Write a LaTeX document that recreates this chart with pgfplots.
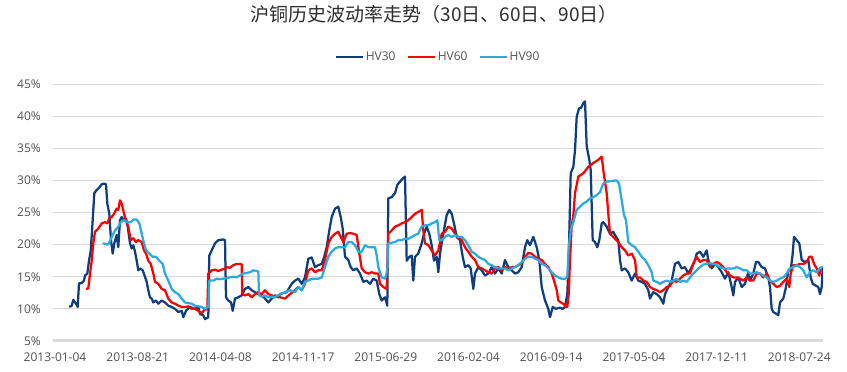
\documentclass[border=0pt]{standalone}
\usepackage{pgfplots}
\usepackage{pgfplotstable}
\pgfplotsset{compat=1.18}
\usepackage{fontspec}
\setmainfont{Open Sans}
\newfontfamily\cjk{Noto Sans CJK SC}
\definecolor{hvdark}{RGB}{14,62,124}
\definecolor{hvred}{RGB}{255,0,0}
\definecolor{hvlight}{RGB}{41,171,226}
\definecolor{gridgray}{RGB}{217,217,217}
\definecolor{textgray}{RGB}{80,80,80}
\definecolor{titlegray}{RGB}{45,45,45}

% column px: horizontal position, converted to trading-day index below
\pgfplotstableread{
px v
69.3 10.3
71.7 10.5
73.3 11.4
76 10.8
77.7 10.3
79 14
81.7 14
84 14.4
85 15.2
87.3 15.5
89 17.5
90.7 19
92.3 22.8
94.3 28
96.7 28.5
100 29
101.7 29.4
104 29.5
106 29.4
107.3 26.4
109.3 24.8
111 20.7
112.7 18.6
114.3 20.2
116.7 21.5
118.3 19.6
120 23.8
121.7 24.3
124 23.8
126 24
127.7 22.8
130 20.2
131.7 19.4
133.3 19.9
135 18.9
136.7 17.5
138.3 16
140 16.3
142.7 16
145 15
146.7 14.2
148.3 12.9
150 11.8
151.7 11.6
153.3 11
156 11.3
158.3 10.8
161.7 11.3
165 11
168.3 10.5
171.7 10.3
175 10
178.3 9.5
181.7 9.7
183.3 8.7
186 9.7
190 10.3
195 10
198.3 10.3
200 9.2
203.3 9
205 8.4
208.3 8.7
209.3 18.3
211.7 19.1
215 20.2
218.3 20.7
223.3 20.8
225 20.7
226 11.8
228.3 11.3
231 11
232.7 9.7
235 11.6
238.3 11.8
241.7 12.1
245 13.1
248.3 13.4
251.7 12.9
255 12.6
258.3 12.3
261.7 12.1
265 11.6
268.3 11
271.7 11.6
275 12.1
278.3 11.8
280 12.3
286.7 12.6
291.7 13.9
295 14.4
298.3 14.7
301.7 13.9
305 14.9
308.3 17.8
311.7 18
315 16.5
318.3 16.8
321.7 17
324 18
326.7 19.6
329.3 22.2
331.7 24.3
335 25.6
338.3 25.9
340.7 24.3
342.7 22.5
345 18.1
348.3 17.6
350.7 16.5
353.3 16
356.7 16.3
360 15.5
363.3 14.2
366.7 14.4
370 13.9
373.3 14.7
376.7 14.4
379.3 12.3
381.7 11.3
385 11.8
387.3 10.5
388.3 27.2
391.7 27.4
395 28
397.3 29.3
400 29.8
402.7 30.3
405 30.6
406.7 17.5
409.3 18.1
411.7 18.3
413.3 14.4
415 18.1
418.3 18.6
421.7 20.2
424 21.7
426.7 22.8
429.3 21.7
431.7 19.9
434 17.5
436.7 18.1
438.3 15.7
440 18.6
443.3 21.7
446.7 24.6
449.3 25.4
451.7 24.8
454 23.3
456.7 21.2
460 20.7
462.7 18.1
465 16.5
468.3 16.8
470.7 16.3
473.3 13.1
475 15.5
478.3 16.5
481.7 16
485 15.2
488.3 15.5
491.7 16.5
495 15.5
498.3 16.3
501.7 15.5
505 17.6
508.3 16.5
511.7 16
515 15.5
518.3 15.7
521.7 16.5
525 19.6
527.3 20.7
530 19.9
533.3 21.2
536.7 19.6
539.3 17.6
541.7 13.4
545 11.3
548.3 10
550 8.7
552.7 10.3
556 10
559.3 10.2
562.7 10
565 10.3
567.3 12.3
568.7 17.6
570.7 31.1
573.3 32.1
575 34.7
576.7 39.9
579 41.2
581 41.3
583.3 42
585 42.3
586.7 35.3
589.3 33.2
590.7 31.6
592.7 20.7
595 20.4
597.3 19.6
599.3 20.7
601.7 23.3
603.3 23.5
606.7 22.8
610 21.7
613.3 22
616 21.2
618.3 20.7
620 17.6
621.7 16
625 16.3
628.3 15.7
631.7 14.4
635 15.5
638.3 14.4
641.7 14.2
645 13.9
648.3 12.9
650 11.6
653.3 12.6
656.7 12.3
660 11.8
663.3 10.8
665 12.3
668.3 13.4
671.7 14.4
675 17
678.3 17.3
681.7 16.3
685 16.5
688.3 15.5
691.7 16.5
695 17.6
696.7 18.6
700 18.9
703.3 18.1
706.7 19.1
708.3 17.6
711.7 16.3
715 17
718.3 16.5
721.7 15.7
725 14.7
728.3 15.7
731.7 13.4
733.3 12.1
735 14.2
738.3 14.9
741.7 13.4
745 13.9
748.3 15.7
750 14.4
753.3 15.5
756 17.3
758.3 17.3
761.7 16.5
765 16.3
768.3 14.9
770 13.4
771.7 10
773.3 9.5
776.7 9.2
778.3 9
780 11
783.3 11.6
786 13.4
788.3 16
790.7 16
792.7 18.6
794 21.2
796.7 20.7
799.3 20.2
801.7 17.6
805 17.3
808.3 17.6
810.7 14.9
812.7 13.9
816 13.6
818.3 13.4
820 12.3
821.7 13.4
822.7 16.5
}\hvthirty

\pgfplotstableread{
px v
86 13.1
88.3 13.2
90 15.5
91.7 17.5
93.3 20.2
95 22
98.3 22.5
101.7 23.3
105 23.5
107.3 23.3
109.3 24.1
111.7 24.3
114 24.8
116.7 25.6
118.3 25.4
120 26.9
121.7 26.4
124 24.8
126 23.8
128.3 22.8
130.7 20.7
133.3 21
136 20.4
138.3 20.7
141.7 20.4
144 19.1
146 18.6
148.3 17.5
150.7 17
153.3 15.5
155 14.2
158.3 13.9
161.7 13.1
165 12.9
168.3 11.6
171.7 11
175 10.8
178.3 10.5
181.7 10.3
185 10.3
188.3 10.4
191.7 10
195 10
198.3 9.7
201.7 9.3
205 10
207.3 9.9
208.3 15.5
211.7 16
215 16.1
218.3 15.9
221.7 16.1
225 16.3
226.7 16.5
230 16.4
233.3 16.8
236.7 17
240 17
241.7 16.9
242.3 12.3
245 12.1
248.3 12.3
251.7 11.8
255 12.3
258.3 12.6
261.7 12.3
265 12.9
268.3 12.3
271.7 12.1
275 11.9
278.3 12.1
280 11.8
285 11.6
290 12.3
295 12.9
298.3 13.4
301.7 12.9
305 13.9
308.3 16
311.7 16.3
315 15.7
318.3 16
321.7 16
325 17.6
328.3 20.2
331.7 21.2
335 21.7
338.3 22
340.7 21.2
343.3 20.4
346.7 21.7
350 21.8
353.3 21.7
356.7 21.5
359.3 18.6
361.7 16.3
365 15.7
368.3 15.5
371.7 15.7
375 15.5
378.3 15.5
380 13.9
383.3 13.4
386.7 13.1
388.3 21.7
391.7 22.2
395 22.8
398.3 23
401.7 23.3
405 23.5
408.3 23.8
411.7 24.3
415 24.8
418.3 25.1
421.7 25.4
423.3 22.2
425 20.2
428.3 19.9
431.7 19.1
435 18.3
438.3 19.1
441.7 21.7
445 22
448.3 22.8
451.7 22.5
455 21.7
458.3 21.2
461.7 20.7
465 19.6
468.3 18.9
471.7 18.1
475 17.6
478.3 16.5
481.7 16.3
485 16
488.3 15.7
491.7 15.5
495 16.3
498.3 16.5
501.7 16
505 16.5
508.3 16.3
511.7 16.5
515 16.5
518.3 16.8
521.7 17
525 18.1
528.3 18.7
531.7 18.6
535 18.1
538.3 17.8
541.7 17.6
545 17
548.3 16.5
551.7 15.5
554 14.4
556.7 12.9
558.3 11.3
560.7 11
563.3 10.8
566 10.3
567.3 10.3
568.7 12.3
570 17.6
571.7 23
573.3 24.5
575 28
578.3 30.6
583.3 31.1
588.3 32.1
593.3 32.7
598.3 33.2
601.7 33.7
603.3 31.6
606.7 28
608.3 24.8
610 21.7
613.3 21.2
618.3 20.4
621.7 19.6
625 19.1
628.3 18.3
631.7 18.6
635 17.6
636.7 14.9
640 14.9
643.3 14.4
646.7 14.2
650 13.4
653.3 13.1
656.7 12.9
660 12.6
663.3 12.9
666.7 13.4
670 13.6
673.3 14.4
676.7 14.2
680 14.7
683.3 15.2
686.7 15.5
690 15.5
693.3 17
696.7 18.1
700 17.3
703.3 17.6
706.7 17.6
710 16.5
713.3 17
716.7 17.3
720 17
723.3 16.5
726.7 15.7
730 15.2
733.3 14.9
736.7 14.9
740 14.7
743.3 14.4
746.7 14.9
750 14.4
753.3 14.4
756.7 15.5
760 15.5
763.3 14.9
766.7 15.5
770 14.4
773.3 13.9
776.7 13.4
780 13.6
783.3 14.2
786.7 14.7
789.3 13.4
790.7 15.5
793.3 16.8
796.7 16.8
800 17
803.3 17
806.7 17.3
809.3 18.1
811.7 18.1
814 17
816.7 16.3
819.3 15.2
820.7 16.5
}\hvsixty

\pgfplotstableread{
px v
102.7 20.2
106 20.1
108.3 20
111.7 21.2
115 22.2
118.3 22.8
120.7 23.5
124 23.8
127.3 23.5
130.7 23.5
133.3 23.9
136.7 23.9
139.3 23.3
141.7 21.7
144 20.2
146 19.1
149.3 18.6
152.7 18.1
156 18.1
159.3 17.5
162.7 17
165 15.5
168.3 14.4
171.7 13.1
175 12.6
178.3 12.3
181.7 11.6
185 11
188.3 10.9
191.7 10.8
195 10.5
198.3 10.4
201.7 10.3
205 10
208.3 10.3
209.3 14.4
213.3 14.4
216.7 14.7
220 14.6
223.3 14.7
226.7 14.8
230 14.9
233.3 15
236.7 14.9
240 15.2
243.3 15.5
246.7 15.6
250 15.7
253.3 16
256.7 15.9
258.3 15.8
259 12.1
261.7 11.9
265 12.1
268.3 11.8
271.7 11.9
275 11.8
278.3 12.1
280 12.3
285 12.6
290 12.9
295 12.6
298.3 13.4
301.7 12.9
305 14.2
308.3 14.4
311.7 14.7
315 14.7
318.3 14.7
321.7 14.9
325 16.5
328.3 18.1
331.7 18.9
335 19.4
338.3 19.6
341.7 19.6
345 19.6
348.3 20.4
351.7 20.4
355 19.9
358.3 18.9
361.7 18.9
365 19.9
368.3 19.6
371.7 19.6
375 19.6
376.7 18.3
378.3 16.5
381.7 14.9
385 14.7
387.3 16
388.3 20.2
391.7 20.3
395 20.4
398.3 20.7
401.7 20.7
405 20.9
408.3 20.9
411.7 21.2
415 21.5
418.3 21.7
421.7 22.8
425 23
428.3 23
431.7 23.3
435 23.5
437.3 23.8
439.3 20.7
441.7 20.7
445 21.2
448.3 21.5
451.7 21.2
455 21.5
458.3 21.2
461.7 21.2
465 20.7
468.3 19.9
471.7 18.9
475 18.6
478.3 18.1
481.7 17.8
485 17.6
488.3 17
491.7 16.8
495 16.5
498.3 16.3
501.7 16.3
505 16.3
508.3 16
511.7 16.3
515 16.5
518.3 16.8
521.7 17.3
525 17.8
528.3 18.1
531.7 18.1
535 17.8
538.3 17.6
541.7 17
545 16.8
548.3 16.3
551.7 15.7
555 15.2
558.3 14.9
561.7 14.7
565 14.7
567.3 14.9
568.7 19.6
570.7 22.2
573.3 23.5
576.7 25.4
580 25.9
583.3 26.4
586.7 26.7
590 27.2
593.3 27.4
596.7 27.7
600 28.2
603.3 29.5
606.7 29.8
611.7 29.9
616.7 30
619 29.5
621.7 26.9
624 24.6
626 23.8
628.3 20.4
631.7 19.9
635 19.6
638.3 18.9
641.7 18.1
645 17.6
648.3 16.8
651.7 15.7
653.3 14.4
656.7 14.2
660 13.9
663.3 14.2
666.7 14.4
670 14.2
673.3 14.4
676.7 14.7
680 14.2
683.3 14.4
686.7 14.2
690 14.9
693.3 15.5
696.7 16
700 16.5
703.3 16.9
706.7 17
710 17.1
713.3 17
716.7 16.8
720 16.5
723.3 16.3
726.7 16.3
730 16.3
733.3 16.3
736.7 16.5
740 16.3
743.3 16
746.7 16
750 15.5
753.3 15.5
756.7 15.7
760 15.5
763.3 15.2
766.7 14.9
770 14.4
773.3 14.2
776.7 14.4
780 14.7
783.3 14.9
786.7 15.5
790 16.3
793.3 16.5
796.7 16.8
800 16.5
803.3 16
806.7 14.9
810 15.7
813.3 16
816.7 15.7
820 16.3
822.7 16.6
}\hvninety

\begin{document}
\begin{tikzpicture}
\path[use as bounding box] (-53pt,-31pt) rectangle (794pt,341pt);
\begin{axis}[
  scale only axis,
  width=770pt, height=257pt,
  at={(0pt,0pt)}, anchor=south west,
  xmin=-3.63, xmax=1393,
  ymin=5, ymax=45,
  xtick={0,150,300,450,600,750,900,1050,1200,1350},
  xticklabels={2013-01-04,2013-08-21,2014-04-08,2014-11-17,2015-06-29,2016-02-04,2016-09-14,2017-05-04,2017-12-11,2018-07-24},
  ytick={5,10,15,20,25,30,35,40,45},
  yticklabel={\pgfmathprintnumber{\tick}\%},
  /pgf/number format/assume math mode=true,
  axis line style={draw=none},
  major tick length=0pt,
  tick style={draw=none},
  ymajorgrids,
  major grid style={draw=gridgray, line width=0.75pt},
  ticklabel style={font=\fontsize{12}{14}\selectfont, text=textgray},
  xticklabel style={inner sep=0pt, anchor=north, yshift=-12pt},
  yticklabel style={inner sep=0pt, anchor=east, xshift=-12pt},
  title={沪铜历史波动率走势（30日、60日、90日）},
  title style={at={(0.495,1.249)}, anchor=center, font=\cjk\fontsize{19}{21}\selectfont, text=titlegray, inner sep=0pt},
  legend columns=3,
  legend style={at={(0.5,1.105)}, anchor=center, draw=none, fill=none,
    font=\fontsize{12}{14}\selectfont, text=textgray, inner sep=0pt,
    nodes={inner sep=1.5pt},
    /tikz/every even column/.append style={column sep=10pt}},
  legend image code/.code={\draw[#1,line width=2.25pt] (0pt,0pt) -- (27pt,0pt);},
  every axis plot/.append style={line width=2.25pt, line join=round, mark=none},
]
\draw[gridgray, line width=3.75pt] (rel axis cs:0,0) -- (rel axis cs:1,0);
\addplot[hvdark] table[x expr={(\thisrow{px}-55)*1.8138}, y=v] {\hvthirty};
\addlegendentry{HV30}
\addplot[hvred] table[x expr={(\thisrow{px}-55)*1.8138}, y=v] {\hvsixty};
\addlegendentry{HV60}
\addplot[hvlight] table[x expr={(\thisrow{px}-55)*1.8138}, y=v] {\hvninety};
\addlegendentry{HV90}
\end{axis}
\end{tikzpicture}
\end{document}
